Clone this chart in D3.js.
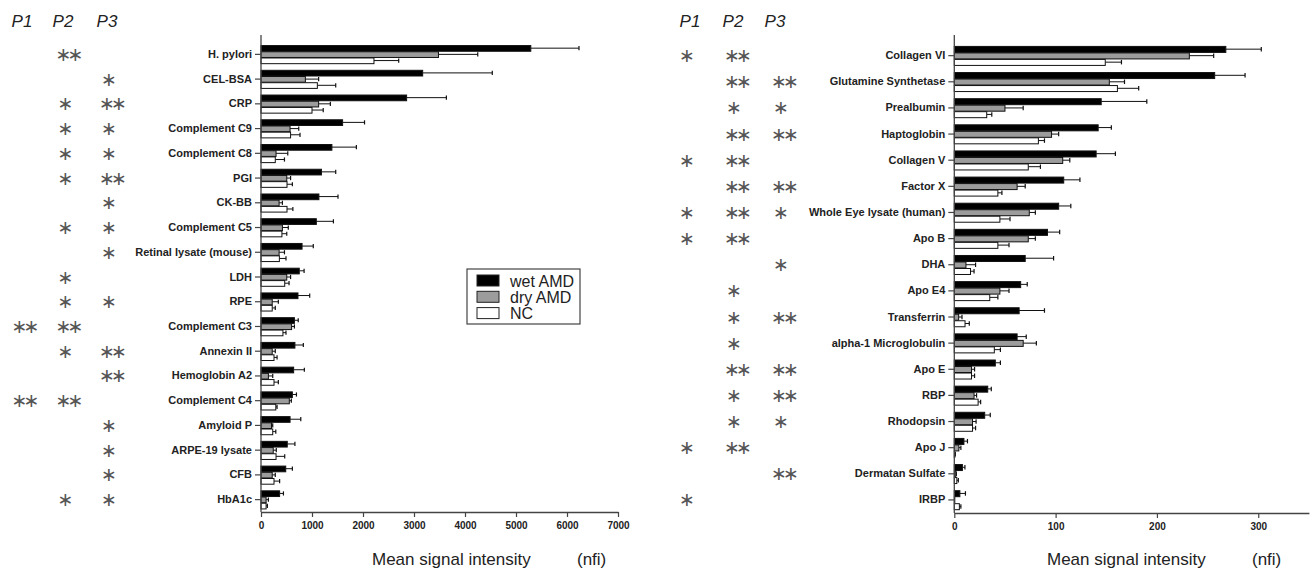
<!DOCTYPE html>
<html>
<head>
<meta charset="utf-8">
<script src="https://cdn.jsdelivr.net/npm/d3@7/dist/d3.min.js"></script>
<style>
  body { margin: 0; background: #fff; }
  svg { display: block; font-family: "Liberation Sans", Arial, sans-serif; }
</style>
</head>
<body>
<svg id="chart" width="1316" height="571"></svg>
<script>
// series
var series = ["wet AMD", "dry AMD", "NC"];
var seriesFill = ["#000000", "#9c9c9c", "#ffffff"];

// ---- left panel data ----
var leftCategories = ["H. pylori", "CEL-BSA", "CRP", "Complement C9", "Complement C8", "PGI", "CK-BB",
  "Complement C5", "Retinal lysate (mouse)", "LDH", "RPE", "Complement C3", "Annexin II",
  "Hemoglobin A2", "Complement C4", "Amyloid P", "ARPE-19 lysate", "CFB", "HbA1c"];
var leftWet    = [5290, 3170, 2855, 1600, 1390, 1185, 1135, 1085, 805, 750, 725, 655, 665, 640, 615, 570, 515, 485, 365];
var leftWetErr = [945, 1365, 780, 430, 480, 280, 375, 335, 220, 95, 230, 75, 165, 210, 80, 210, 150, 130, 75];
var leftDry    = [3480, 870, 1130, 570, 295, 505, 355, 420, 355, 505, 220, 600, 220, 145, 555, 205, 240, 220, 100];
var leftDryErr = [770, 260, 230, 170, 230, 75, 65, 115, 105, 75, 120, 55, 60, 85, 40, 25, 60, 60, 45];
var leftNC     = [2215, 1105, 1000, 580, 280, 510, 510, 410, 360, 465, 220, 430, 255, 255, 290, 230, 295, 255, 100];
var leftNCErr  = [485, 360, 220, 185, 180, 105, 115, 95, 130, 85, 60, 60, 60, 85, 25, 60, 170, 110, 25];
// number of asterisks per p-value column
var leftP1 = [0, 0, 0, 0, 0, 0, 0, 0, 0, 0, 0, 2, 0, 0, 2, 0, 0, 0, 0];
var leftP2 = [2, 0, 1, 1, 1, 1, 0, 1, 0, 1, 1, 2, 1, 0, 2, 0, 0, 0, 1];
var leftP3 = [0, 1, 2, 1, 1, 2, 1, 1, 1, 0, 1, 0, 2, 2, 0, 1, 1, 1, 1];
var leftTicks = [0, 1000, 2000, 3000, 4000, 5000, 6000, 7000];

// ---- right panel data ----
var rightCategories = ["Collagen VI", "Glutamine Synthetase", "Prealbumin", "Haptoglobin", "Collagen V",
  "Factor X", "Whole Eye lysate (human)", "Apo B", "DHA", "Apo E4", "Transferrin",
  "alpha-1 Microglobulin", "Apo E", "RBP", "Rhodopsin", "Apo J", "Dermatan Sulfate", "IRBP"];
var rightWet    = [268, 257, 145, 142, 140, 108, 103, 92, 70, 65.5, 64, 62, 40.5, 33, 30, 9.5, 8, 5.5];
var rightWetErr = [35, 30, 45, 13, 19, 16, 12, 12, 28, 6.5, 25, 9, 5, 3.5, 5.5, 3.5, 2.5, 5.5];
var rightDry    = [232, 153, 50, 96, 107, 62, 74, 73, 11.5, 45, 4.3, 68, 17, 19.5, 18, 4.5, 1.5, 0.5];
var rightDryErr = [24, 15, 18, 7, 7, 8, 6, 7, 9.5, 9, 3.3, 13, 3, 2.5, 3.5, 2, 0.5, 0];
var rightNC     = [149, 161, 32, 83, 73, 43, 45, 43, 16, 35, 10.6, 39.5, 17, 23.5, 18, 0.5, 2.5, 5];
var rightNCErr  = [16, 21, 5, 6, 12, 4, 10, 11, 3.5, 8, 4.2, 6, 3, 2.5, 3, 0.5, 1.5, 1.5];
var rightP1 = [1, 0, 0, 0, 1, 0, 1, 1, 0, 0, 0, 0, 0, 0, 0, 1, 0, 1];
var rightP2 = [2, 2, 1, 2, 2, 2, 2, 2, 0, 1, 1, 1, 2, 1, 1, 2, 0, 0];
var rightP3 = [0, 2, 1, 2, 0, 2, 1, 0, 1, 0, 2, 0, 2, 2, 1, 0, 2, 0];
var rightTicks = [0, 100, 200, 300];

var svg = d3.select("#chart");

function drawPanel(cfg) {
    var x = d3.scaleLinear().domain(cfg.domain).range([cfg.x0, cfg.x1]);
    var y = d3.scaleBand().domain(cfg.categories).range([cfg.yTop, cfg.yBottom]);
    var barH = cfg.barH;
    var sub = d3.scaleBand().domain(series).range([0, 3 * barH]);

    var g = svg.append("g");

    var rows = cfg.categories.map(function(c, i) {
        return {
            cat: c,
            vals: [
                {s: 0, v: cfg.wet[i], e: cfg.wetErr[i]},
                {s: 1, v: cfg.dry[i], e: cfg.dryErr[i]},
                {s: 2, v: cfg.nc[i], e: cfg.ncErr[i]}
            ],
            stars: [cfg.p1[i], cfg.p2[i], cfg.p3[i]]
        };
    });

    var grp = g.selectAll(".grp").data(rows).enter().append("g")
        .attr("transform", function(d) {
            return "translate(0," + (y(d.cat) + y.bandwidth() / 2 - 1.5 * barH) + ")";
        });

    // error bars (drawn first, bar sits on top)
    var eb = grp.selectAll(".err").data(function(d) { return d.vals; }).enter().append("g");
    eb.append("line")
        .attr("x1", function(d) { return x(d.v); })
        .attr("x2", function(d) { return x(d.v + d.e); })
        .attr("y1", function(d) { return sub(series[d.s]) + barH / 2; })
        .attr("y2", function(d) { return sub(series[d.s]) + barH / 2; })
        .attr("stroke", "#111").attr("stroke-width", 1);
    eb.filter(function(d) { return d.e > 0; }).append("line")
        .attr("x1", function(d) { return x(d.v + d.e); })
        .attr("x2", function(d) { return x(d.v + d.e); })
        .attr("y1", function(d) { return sub(series[d.s]) + 1; })
        .attr("y2", function(d) { return sub(series[d.s]) + barH - 1; })
        .attr("stroke", "#111").attr("stroke-width", 1.2);

    grp.selectAll(".bar").data(function(d) { return d.vals; }).enter().append("rect")
        .attr("x", x(0))
        .attr("y", function(d) { return sub(series[d.s]) + 0.5; })
        .attr("width", function(d) { return Math.max(0.5, x(d.v) - x(0)); })
        .attr("height", barH - 0.5)
        .attr("fill", function(d) { return seriesFill[d.s]; })
        .attr("stroke", "#111").attr("stroke-width", 1);

    // y axis
    var yAxis = g.append("g")
        .attr("transform", "translate(" + x(0) + ",0)")
        .call(d3.axisLeft(y).tickSize(6).tickPadding(3).tickSizeOuter(0));
    yAxis.select(".domain").remove();
    yAxis.selectAll("line").attr("stroke", "#444").attr("stroke-width", 1.2);
    yAxis.selectAll("text")
        .attr("font-size", 11).attr("font-weight", "bold")
        .attr("font-family", "'Liberation Sans', Arial, sans-serif").attr("fill", "#222");
    g.append("line")
        .attr("x1", x(0)).attr("x2", x(0))
        .attr("y1", cfg.axisTop).attr("y2", cfg.yBottom)
        .attr("stroke", "#444").attr("stroke-width", 1.3);

    // x axis
    var xAxis = g.append("g")
        .attr("transform", "translate(0," + cfg.yBottom + ")")
        .call(d3.axisBottom(x).tickValues(cfg.ticks).tickFormat(d3.format("d"))
            .tickSize(5).tickPadding(5).tickSizeOuter(0));
    xAxis.select(".domain").attr("stroke", "#444").attr("stroke-width", 1.3);
    xAxis.selectAll(".tick line").attr("stroke", "#444").attr("stroke-width", 1.2);
    xAxis.selectAll("text")
        .attr("font-size", 10).attr("font-weight", "bold")
        .attr("font-family", "'Liberation Sans', Arial, sans-serif").attr("fill", "#222");

    // axis title
    g.append("text")
        .attr("x", cfg.titleX).attr("y", 565)
        .attr("font-size", 17).attr("fill", "#222")
        .text("Mean signal intensity");
    g.append("text")
        .attr("x", cfg.unitX).attr("y", 565)
        .attr("font-size", 17).attr("fill", "#222")
        .text("(nfi)");

    // p-value headers
    g.selectAll(".phead").data(["P1", "P2", "P3"]).enter().append("text")
        .attr("x", function(d, i) { return cfg.pHeadX[i]; })
        .attr("y", 27)
        .attr("text-anchor", "middle")
        .attr("font-size", 17).attr("font-style", "italic").attr("fill", "#222")
        .text(function(d) { return d; });

    // asterisks: one text per cell, "∗" or "∗∗"
    var starData = [];
    rows.forEach(function(r) {
        r.stars.forEach(function(n, col) {
            if (n > 0) starData.push({cat: r.cat, col: col, n: n});
        });
    });
    g.selectAll(".star").data(starData).enter().append("text")
        .attr("x", function(d) { return cfg.pColX[d.col] + (d.n === 2 ? 2 : 0); })
        .attr("y", function(d) { return y(d.cat) + y.bandwidth() / 2 + 6.5; })
        .attr("text-anchor", "middle")
        .attr("font-family", "'DejaVu Sans', sans-serif")
        .attr("font-size", 19).attr("fill", "#555")
        .attr("letter-spacing", function(d) { return d.n === 2 ? -4 : 0; })
        .text(function(d) { return d.n === 2 ? "\u2217\u2217" : "\u2217"; });

    return {x: x, y: y};
}

drawPanel({
    categories: leftCategories, wet: leftWet, wetErr: leftWetErr, dry: leftDry, dryErr: leftDryErr,
    nc: leftNC, ncErr: leftNCErr, p1: leftP1, p2: leftP2, p3: leftP3, ticks: leftTicks,
    domain: [0, 7000], x0: 261, x1: 618, yTop: 42, yBottom: 512, axisTop: 35, barH: 6.2,
    titleX: 372, unitX: 577, pHeadX: [22, 63, 107], pColX: [21.5, 65.5, 109]
});

drawPanel({
    categories: rightCategories, wet: rightWet, wetErr: rightWetErr, dry: rightDry, dryErr: rightDryErr,
    nc: rightNC, ncErr: rightNCErr, p1: rightP1, p2: rightP2, p3: rightP3, ticks: rightTicks,
    domain: [0, 350], x0: 954.3, x1: 1308.9, yTop: 42.6, yBottom: 513, axisTop: 35, barH: 6.5,
    titleX: 1047, unitX: 1252, pHeadX: [690, 733, 775], pColX: [687, 734, 781]
});

// legend (left panel)
var legend = svg.append("g").attr("transform", "translate(467,269)");
legend.append("rect").attr("width", 113).attr("height", 55)
    .attr("fill", "#fff").attr("stroke", "#444").attr("stroke-width", 1.2);
var li = legend.selectAll(".li").data(series).enter().append("g")
    .attr("transform", function(d, i) { return "translate(10," + (6 + i * 16.3) + ")"; });
li.append("rect").attr("width", 22).attr("height", 11)
    .attr("fill", function(d, i) { return seriesFill[i]; })
    .attr("stroke", "#222").attr("stroke-width", 1);
li.append("text").attr("x", 33).attr("y", 11.5)
    .attr("font-size", 16).attr("fill", "#222")
    .text(function(d) { return d; });
</script>
</body>
</html>
